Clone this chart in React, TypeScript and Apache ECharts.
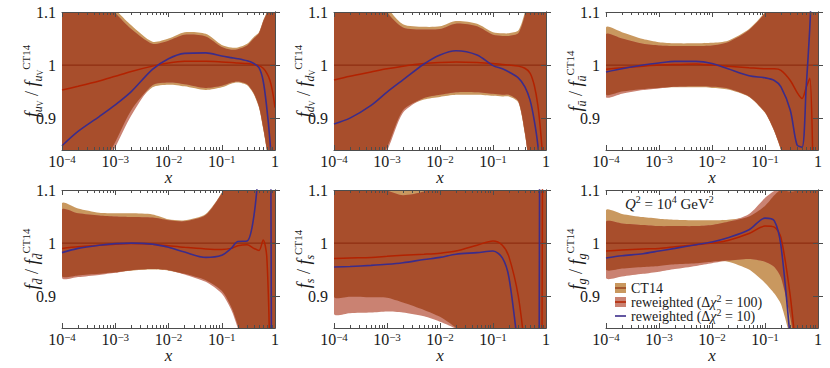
import React, { useEffect, useRef } from 'react';
import * as echarts from 'echarts';

// x grid (momentum fraction)
const X = [1e-4, 2e-4, 5e-4, 1e-3, 2e-3, 5e-3, 0.01, 0.02, 0.05, 0.1, 0.15, 0.2, 0.3, 0.4, 0.5, 0.6, 0.7, 0.8, 0.9, 1];

// CT14 central ratio (CT14 / CT14)
const CT14_RATIO = [1, 1, 1, 1, 1, 1, 1, 1, 1, 1, 1, 1, 1, 1, 1, 1, 1, 1, 1, 1];

// u_V
const UV_CT_HI = [1.25, 1.2, 1.14, 1.105, 1.075, 1.044, 1.05, 1.062, 1.059, 1.038, 1.033, 1.033, 1.04, 1.053, 1.062, 1.084, 1.1, 1.13, 1.18, 1.25];
const UV_RW_HI = [1.24, 1.19, 1.13, 1.098, 1.068, 1.04, 1.046, 1.057, 1.054, 1.034, 1.029, 1.03, 1.037, 1.05, 1.06, 1.082, 1.098, 1.13, 1.18, 1.25];
const UV_CT_LO = [0.7, 0.74, 0.8, 0.855, 0.915, 0.958, 0.963, 0.96, 0.953, 0.958, 0.965, 0.967, 0.962, 0.945, 0.92, 0.88, 0.84, 0.8, 0.75, 0.7];
const UV_RW_LO = [0.69, 0.73, 0.79, 0.845, 0.905, 0.962, 0.967, 0.964, 0.957, 0.961, 0.967, 0.969, 0.964, 0.947, 0.922, 0.882, 0.842, 0.8, 0.75, 0.7];
const UV_RED = [0.953, 0.96, 0.97, 0.979, 0.988, 0.998, 1.004, 1.007, 1.007, 1.006, 1.005, 1.004, 1.003, 1.001, 0.999, 0.994, 0.985, 0.972, 0.95, 0.92];
const UV_BLUE = [0.848, 0.875, 0.903, 0.925, 0.95, 0.992, 1.012, 1.022, 1.023, 1.017, 1.014, 1.012, 1.008, 1.003, 0.995, 0.97, 0.92, 0.86, 0.78, 0.65];

// d_V
const DV_CT_HI = [1.3, 1.25, 1.17, 1.11, 1.077, 1.072, 1.073, 1.083, 1.078, 1.062, 1.06, 1.06, 1.065, 1.1, 1.15, 1.2, 1.25, 1.3, 1.35, 1.4];
const DV_RW_HI = [1.29, 1.24, 1.16, 1.1, 1.071, 1.067, 1.068, 1.078, 1.073, 1.057, 1.055, 1.055, 1.06, 1.095, 1.15, 1.2, 1.25, 1.3, 1.35, 1.4];
const DV_CT_LO = [0.7, 0.74, 0.8, 0.845, 0.915, 0.935, 0.94, 0.944, 0.944, 0.942, 0.941, 0.941, 0.93, 0.87, 0.8, 0.75, 0.7, 0.65, 0.6, 0.55];
const DV_RW_LO = [0.69, 0.73, 0.79, 0.838, 0.91, 0.938, 0.944, 0.949, 0.949, 0.946, 0.944, 0.944, 0.932, 0.872, 0.8, 0.75, 0.7, 0.65, 0.6, 0.55];
const DV_RED = [0.972, 0.979, 0.987, 0.993, 0.998, 1.003, 1.005, 1.006, 1.005, 1.003, 1.001, 1.0, 0.998, 0.994, 0.985, 0.962, 0.925, 0.87, 0.8, 0.7];
const DV_BLUE = [0.889, 0.9, 0.924, 0.949, 0.972, 1.002, 1.019, 1.027, 1.019, 0.999, 0.993, 0.987, 0.976, 0.959, 0.934, 0.896, 0.85, 0.78, 0.7, 0.6];

// u-bar
const UB_CT_HI = [1.071, 1.062, 1.049, 1.043, 1.041, 1.041, 1.042, 1.046, 1.068, 1.1, 1.13, 1.16, 1.2, 1.25, 1.3, 1.3, 1.3, 1.3, 1.3, 1.3];
const UB_RW_HI = [1.058, 1.05, 1.04, 1.037, 1.036, 1.036, 1.037, 1.043, 1.066, 1.098, 1.13, 1.16, 1.2, 1.25, 1.3, 1.3, 1.3, 1.3, 1.3, 1.3];
const UB_CT_LO = [0.945, 0.95, 0.955, 0.957, 0.958, 0.958, 0.957, 0.954, 0.94, 0.91, 0.875, 0.84, 0.78, 0.72, 0.66, 0.6, 0.55, 0.5, 0.45, 0.4];
const UB_RW_LO = [0.94, 0.946, 0.953, 0.956, 0.959, 0.96, 0.959, 0.956, 0.941, 0.911, 0.876, 0.841, 0.78, 0.72, 0.66, 0.6, 0.55, 0.5, 0.45, 0.4];
const UB_RED = [0.992, 0.995, 0.998, 1.0, 1.001, 1.002, 1.0, 0.998, 0.995, 0.993, 0.993, 0.99, 0.971, 0.949, 0.937, 0.958, 0.975, 0.82, 0.6, 0.4];
const UB_BLUE = [0.987, 0.993, 1.0, 1.004, 1.007, 1.007, 1.003, 0.993, 0.98, 0.976, 0.971, 0.959, 0.915, 0.85, 0.845, 0.96, 1.07, 1.2, 1.3, 1.3];

// d-bar
const DB_CT_HI = [1.075, 1.065, 1.057, 1.056, 1.056, 1.054, 1.045, 1.043, 1.055, 1.095, 1.13, 1.17, 1.2, 1.25, 1.3, 1.3, 1.3, 1.3, 1.3, 1.3];
const DB_RW_HI = [1.063, 1.056, 1.052, 1.05, 1.049, 1.048, 1.043, 1.041, 1.053, 1.094, 1.13, 1.17, 1.2, 1.25, 1.3, 1.3, 1.3, 1.3, 1.3, 1.3];
const DB_CT_LO = [0.938, 0.939, 0.942, 0.945, 0.948, 0.95, 0.948, 0.942, 0.93, 0.91, 0.88, 0.845, 0.78, 0.72, 0.66, 0.6, 0.55, 0.5, 0.45, 0.4];
const DB_RW_LO = [0.934, 0.936, 0.94, 0.944, 0.949, 0.951, 0.949, 0.941, 0.927, 0.905, 0.875, 0.84, 0.78, 0.72, 0.66, 0.6, 0.55, 0.5, 0.45, 0.4];
const DB_RED = [0.99, 0.993, 0.996, 0.998, 0.999, 0.998, 0.995, 0.992, 0.989, 0.988, 0.99, 0.995, 0.997, 0.99, 0.986, 1.006, 0.975, 0.8, 0.6, 0.5];
const DB_BLUE = [0.982, 0.99, 0.996, 0.999, 1.0, 0.998, 0.992, 0.983, 0.973, 0.977, 0.99, 1.003, 1.004, 1.05, 1.15, 1.3, 1.3, 1.3, 0.5, 0.5];

// s
const S_CT_HI = [1.2, 1.2, 1.2, 1.2, 1.2, 1.2, 1.2, 1.2, 1.2, 1.2, 1.2, 1.2, 1.2, 1.2, 1.2, 1.2, 1.2, 1.2, 1.2, 1.2];
const S_RW_HI = [1.13, 1.12, 1.106, 1.099, 1.09, 1.097, 1.11, 1.13, 1.15, 1.2, 1.2, 1.2, 1.2, 1.2, 1.2, 1.2, 1.2, 1.2, 1.2, 1.2];
const S_CT_LO = [0.899, 0.899, 0.898, 0.897, 0.888, 0.874, 0.861, 0.84, 0.8, 0.75, 0.7, 0.65, 0.6, 0.55, 0.5, 0.45, 0.4, 0.35, 0.3, 0.25];
const S_RW_LO = [0.867, 0.868, 0.869, 0.871, 0.869, 0.862, 0.852, 0.838, 0.8, 0.75, 0.7, 0.65, 0.6, 0.55, 0.5, 0.45, 0.4, 0.35, 0.3, 0.25];
const S_RED = [0.971, 0.972, 0.973, 0.975, 0.977, 0.979, 0.981, 0.985, 0.996, 1.004, 0.996, 0.974, 0.9, 0.8, 0.7, 0.6, 0.6, 0.6, 1.4, 1.4];
const S_BLUE = [0.955, 0.956, 0.958, 0.96, 0.963, 0.969, 0.973, 0.979, 0.982, 0.985, 0.972, 0.935, 0.8, 0.7, 0.6, 0.5, 0.5, 1.5, 1.5, 1.5];

// g
const G_CT_HI = [1.062, 1.055, 1.049, 1.046, 1.044, 1.043, 1.043, 1.044, 1.05, 1.07, 1.09, 1.11, 1.15, 1.2, 1.25, 1.3, 1.3, 1.3, 1.3, 1.3];
const G_RW_HI = [1.04, 1.037, 1.034, 1.032, 1.032, 1.032, 1.034, 1.04, 1.055, 1.085, 1.098, 1.1, 1.097, 1.1, 1.15, 1.2, 1.3, 1.3, 1.3, 1.3];
const G_CT_LO = [0.95, 0.952, 0.955, 0.957, 0.96, 0.962, 0.965, 0.965, 0.95, 0.925, 0.905, 0.885, 0.82, 0.75, 0.7, 0.6, 0.5, 0.4, 0.3, 0.2];
const G_RW_LO = [0.934, 0.937, 0.942, 0.946, 0.951, 0.957, 0.962, 0.967, 0.97, 0.965, 0.955, 0.935, 0.86, 0.78, 0.7, 0.6, 0.5, 0.4, 0.3, 0.2];
const G_RED = [0.985, 0.987, 0.989, 0.99, 0.993, 0.997, 1.0, 1.005, 1.018, 1.032, 1.03, 1.01, 0.9, 0.78, 0.7, 0.6, 0.5, 0.4, 0.3, 0.2];
const G_BLUE = [0.972, 0.976, 0.98, 0.985, 0.99, 0.997, 1.002, 1.01, 1.025, 1.047, 1.042, 0.995, 0.82, 0.7, 0.6, 0.5, 0.4, 0.3, 0.2, 0.1];

// axis tick labels
const X_TICK_EXPONENTS = [-4, -3, -2, -1, 0];
const Y_TICKS = [0.9, 1, 1.1];
const Y_MIN = 0.84;
const Y_MAX = 1.1;

const TITLES = [
  '{i|f}{s|u}{ss|V}{n| / }{i|f}{s|u}{ss|V}{p|CT14}',
  '{i|f}{s|d}{ss|V}{n| / }{i|f}{s|d}{ss|V}{p|CT14}',
  '{i|f}{s|ū}{n| / }{i|f}{s|ū}{p|CT14}',
  '{i|f}{s|d̄}{n| / }{i|f}{s|d̄}{p|CT14}',
  '{i|f}{s|s}{n| / }{i|f}{s|s}{p|CT14}',
  '{i|f}{s|g}{n| / }{i|f}{s|g}{p|CT14}',
];

const PANELS = [
  { ctLo: UV_CT_LO, ctHi: UV_CT_HI, rwLo: UV_RW_LO, rwHi: UV_RW_HI, red: UV_RED, blue: UV_BLUE },
  { ctLo: DV_CT_LO, ctHi: DV_CT_HI, rwLo: DV_RW_LO, rwHi: DV_RW_HI, red: DV_RED, blue: DV_BLUE },
  { ctLo: UB_CT_LO, ctHi: UB_CT_HI, rwLo: UB_RW_LO, rwHi: UB_RW_HI, red: UB_RED, blue: UB_BLUE },
  { ctLo: DB_CT_LO, ctHi: DB_CT_HI, rwLo: DB_RW_LO, rwHi: DB_RW_HI, red: DB_RED, blue: DB_BLUE },
  { ctLo: S_CT_LO, ctHi: S_CT_HI, rwLo: S_RW_LO, rwHi: S_RW_HI, red: S_RED, blue: S_BLUE },
  { ctLo: G_CT_LO, ctHi: G_CT_HI, rwLo: G_RW_LO, rwHi: G_RW_HI, red: G_RED, blue: G_BLUE },
];

const GRIDS = [
  { left: 62, top: 12, width: 213, height: 138 },
  { left: 334, top: 12, width: 212, height: 138 },
  { left: 606, top: 12, width: 212, height: 138 },
  { left: 62, top: 190, width: 213, height: 138 },
  { left: 334, top: 190, width: 212, height: 138 },
  { left: 606, top: 190, width: 212, height: 138 },
];

const SERIF = "'Liberation Serif', 'Times New Roman', 'DejaVu Serif', serif";
const TXT = '#1a1a1a';
const AXIS_C = '#4d4d4d';
const TAN = '#c9985f';
const SALMON = '#ca8272';
const RUST = '#a84e2c';
const CT_LINE = '#8e2e10';
const RED = '#b32200';
const BLUE = '#3b2c8b';

function buildOption() {
  const minorTicks: number[] = [];
  for (let k = -4; k < 0; k++) {
    for (let m = 2; m <= 9; m++) minorTicks.push(k + Math.log10(m));
  }
  const pts = (ys: number[]) => X.map((x, k) => [Math.log10(x), ys[k]]);
  const SMOOTH = 0.3;

  const xAxis: any[] = [];
  const yAxis: any[] = [];
  const series: any[] = [];

  const titleRich = {
    i: { fontFamily: SERIF, fontStyle: 'italic', fontSize: 18, lineHeight: 24, color: TXT },
    n: { fontFamily: SERIF, fontSize: 18, lineHeight: 24, color: TXT },
    s: { fontFamily: SERIF, fontStyle: 'italic', fontSize: 12, lineHeight: 12, verticalAlign: 'bottom', color: TXT },
    ss: { fontFamily: SERIF, fontSize: 8, lineHeight: 8, verticalAlign: 'bottom', color: TXT },
    p: { fontFamily: SERIF, fontSize: 11, lineHeight: 11, verticalAlign: 'top', color: TXT },
  };

  GRIDS.forEach((g, i) => {
    const baseX = {
      type: 'value',
      gridIndex: i,
      min: X_TICK_EXPONENTS[0],
      max: X_TICK_EXPONENTS[X_TICK_EXPONENTS.length - 1],
      interval: 1,
      z: 10,
      splitLine: { show: false },
    };
    xAxis.push({
      ...baseX,
      position: 'bottom',
      axisLine: { show: true, lineStyle: { color: AXIS_C, width: 1 } },
      axisTick: { show: true, inside: true, length: 5, lineStyle: { color: AXIS_C } },
      axisLabel: {
        show: true,
        margin: 3,
        fontFamily: SERIF,
        fontSize: 16,
        lineHeight: 16,
        color: TXT,
        formatter: (v: number) => {
          const e = Math.round(v);
          return e === 0 ? '1' : `10{sup|−${-e}}`;
        },
        rich: { sup: { fontFamily: SERIF, fontSize: 11, lineHeight: 11, verticalAlign: 'top', color: TXT } },
      },
      name: 'x',
      nameLocation: 'middle',
      nameGap: 19,
      nameMoveOverlap: false,
      nameTextStyle: { fontFamily: SERIF, fontStyle: 'italic', fontSize: 17, lineHeight: 16, color: TXT },
    });
    xAxis.push({
      ...baseX,
      position: 'bottom',
      axisLine: { show: false },
      axisTick: { show: true, inside: true, length: 3, customValues: minorTicks, lineStyle: { color: AXIS_C } },
      axisLabel: { show: false },
    });
    xAxis.push({
      ...baseX,
      position: 'top',
      axisLine: { show: true, lineStyle: { color: AXIS_C, width: 1 } },
      axisTick: { show: true, inside: true, length: 5, lineStyle: { color: AXIS_C } },
      axisLabel: { show: false },
    });
    xAxis.push({
      ...baseX,
      position: 'top',
      axisLine: { show: false },
      axisTick: { show: true, inside: true, length: 3, customValues: minorTicks, lineStyle: { color: AXIS_C } },
      axisLabel: { show: false },
    });

    yAxis.push({
      type: 'value',
      gridIndex: i,
      min: Y_MIN,
      max: Y_MAX,
      position: 'left',
      z: 10,
      splitLine: { show: false },
      axisLine: { show: true, lineStyle: { color: AXIS_C, width: 1 } },
      axisTick: { show: true, inside: true, length: 5, customValues: Y_TICKS, lineStyle: { color: AXIS_C } },
      axisLabel: {
        show: true,
        customValues: Y_TICKS,
        margin: 6,
        fontFamily: SERIF,
        fontSize: 16,
        color: TXT,
        formatter: (v: number) => (Math.abs(v - 1) < 1e-9 ? '1' : v.toFixed(1)),
      },
      name: TITLES[i],
      nameLocation: 'middle',
      nameRotate: 90,
      nameGap: 18,
      nameMoveOverlap: false,
      nameTextStyle: { fontFamily: SERIF, fontSize: 18, color: TXT, rich: titleRich },
    });
    yAxis.push({
      type: 'value',
      gridIndex: i,
      min: Y_MIN,
      max: Y_MAX,
      position: 'right',
      z: 10,
      splitLine: { show: false },
      axisLine: { show: true, lineStyle: { color: AXIS_C, width: 1 } },
      axisTick: { show: true, inside: true, length: 5, customValues: Y_TICKS, lineStyle: { color: AXIS_C } },
      axisLabel: { show: false },
    });

    const p = PANELS[i];
    const band = (lo: number[], hi: number[], color: string) => {
      series.push({
        type: 'custom',
        xAxisIndex: i * 4,
        yAxisIndex: i * 2,
        silent: true,
        clip: true,
        z: 1,
        data: X.map((x, k) => [Math.log10(x), lo[k], hi[k]]),
        encode: { x: 0, y: [1, 2] },
        renderItem: (params: any, api: any) => {
          if (params.dataIndex !== 0) return null;
          const n = X.length;
          const top: number[][] = [];
          const bot: number[][] = [];
          for (let k = 0; k < n; k++) {
            const xv = api.value(0, k);
            top.push(api.coord([xv, api.value(2, k)]));
            bot.push(api.coord([xv, api.value(1, k)]));
          }
          return {
            type: 'polygon',
            shape: { points: top.concat(bot.reverse()), smooth: 0.25 },
            style: { fill: color, stroke: null },
            silent: true,
          };
        },
      });
    };
    const ovLo = p.ctLo.map((v, k) => Math.max(v, p.rwLo[k]));
    const ovHi = p.ctHi.map((v, k) => Math.min(v, p.rwHi[k]));
    band(p.ctLo, p.ctHi, TAN);
    band(p.rwLo, p.rwHi, SALMON);
    band(ovLo, ovHi, RUST);

    const common = {
      type: 'line',
      xAxisIndex: i * 4,
      yAxisIndex: i * 2,
      symbol: 'none',
      showSymbol: false,
      silent: true,
      smooth: SMOOTH,
      clip: true,
      z: 3,
    };
    series.push({ ...common, data: pts(CT14_RATIO), lineStyle: { color: CT_LINE, width: 1.2 } });
    series.push({ ...common, data: pts(p.red), lineStyle: { color: RED, width: 1.5 } });
    series.push({ ...common, data: pts(p.blue), lineStyle: { color: BLUE, width: 1.6 } });
  });

  const legendRich = {
    i: { fontFamily: SERIF, fontStyle: 'italic', fontSize: 14, lineHeight: 18, color: TXT },
    sp: { fontFamily: SERIF, fontSize: 10, lineHeight: 10, verticalAlign: 'top', color: TXT },
  };
  const textEl = (text: string, x: number, y: number) => ({
    type: 'text',
    x,
    y,
    silent: true,
    z: 20,
    style: {
      text,
      fontFamily: SERIF,
      fontSize: 14,
      lineHeight: 18,
      fill: TXT,
      verticalAlign: 'middle',
      align: 'left',
      rich: legendRich,
    },
  });

  const graphic: any[] = [
    {
      type: 'text',
      x: 625,
      y: 204,
      silent: true,
      z: 20,
      style: {
        text: '{q|Q}{sp|2}{n| = 10}{sp|4}{n| GeV}{sp|2}',
        fontFamily: SERIF,
        fontSize: 15,
        fill: TXT,
        verticalAlign: 'middle',
        rich: {
          q: { fontFamily: SERIF, fontStyle: 'italic', fontSize: 15, lineHeight: 19, color: TXT },
          n: { fontFamily: SERIF, fontSize: 15, lineHeight: 19, color: TXT },
          sp: { fontFamily: SERIF, fontSize: 10, lineHeight: 10, verticalAlign: 'top', color: TXT },
        },
      },
    },
    { type: 'rect', z: 20, silent: true, shape: { x: 615, y: 283, width: 11, height: 10 }, style: { fill: TAN } },
    { type: 'line', z: 21, silent: true, shape: { x1: 615, y1: 288, x2: 626, y2: 288 }, style: { stroke: CT_LINE, lineWidth: 1.2 } },
    { type: 'rect', z: 20, silent: true, shape: { x: 615, y: 297, width: 11, height: 10 }, style: { fill: SALMON } },
    { type: 'line', z: 21, silent: true, shape: { x1: 615, y1: 302, x2: 626, y2: 302 }, style: { stroke: RED, lineWidth: 1.5 } },
    { type: 'line', z: 21, silent: true, shape: { x1: 615, y1: 316, x2: 626, y2: 316 }, style: { stroke: BLUE, lineWidth: 1.6 } },
    textEl('CT14', 631, 288),
    textEl('reweighted (Δ{i|χ}{sp|2} = 100)', 631, 302),
    textEl('reweighted (Δ{i|χ}{sp|2} = 10)', 631, 316),
  ];

  return {
    animation: false,
    backgroundColor: '#ffffff',
    grid: GRIDS.map((g) => ({ ...g, containLabel: false, outerBoundsMode: 'none' })),
    xAxis,
    yAxis,
    series,
    graphic,
  };
}

export default function App() {
  const ref = useRef<HTMLDivElement>(null);
  useEffect(() => {
    if (!ref.current) return;
    const chart = echarts.init(ref.current, null, { renderer: 'svg' });
    chart.setOption(buildOption() as any);
    return () => chart.dispose();
  }, []);
  return <div ref={ref} style={{ position: 'absolute', left: 0, top: 0, width: 830, height: 368 }} />;
}
